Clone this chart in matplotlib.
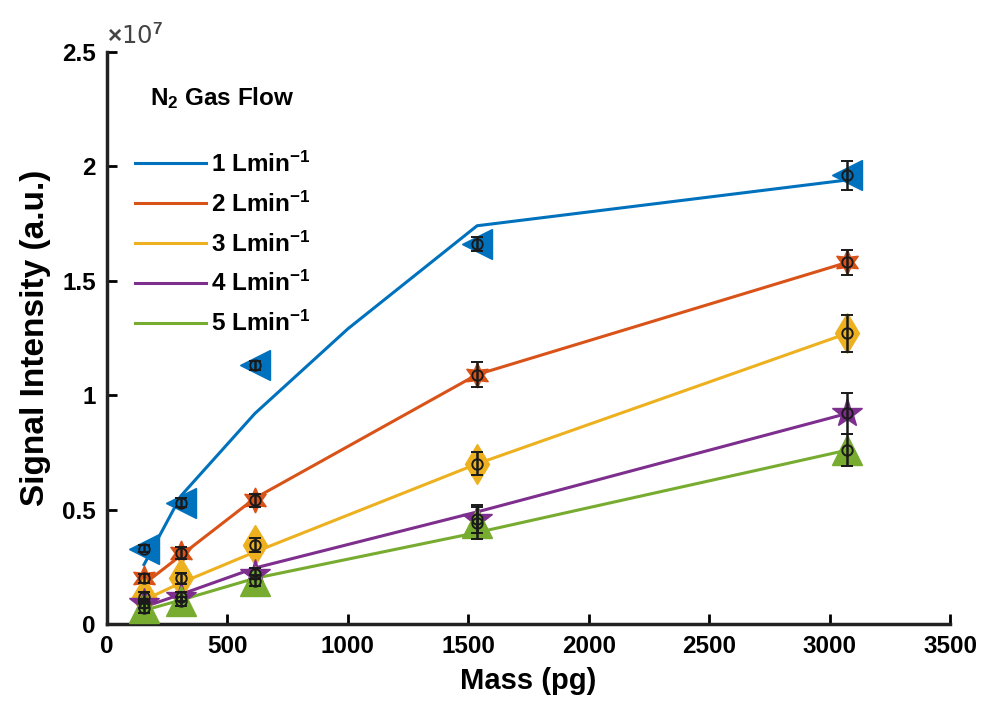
import matplotlib
matplotlib.use('Agg')
import matplotlib.pyplot as plt

plt.rcParams['font.family'] = ['Liberation Sans', 'DejaVu Sans']
plt.rcParams['font.weight'] = 'bold'
plt.rcParams['mathtext.fontset'] = 'custom'
plt.rcParams['mathtext.rm'] = 'Liberation Sans:bold'
plt.rcParams['mathtext.bf'] = 'Liberation Sans:bold'
plt.rcParams['mathtext.it'] = 'Liberation Sans:bold'

# ---- data ----
mass = [154, 307, 614, 1536, 3072]
fit_mass_blue = [154, 307, 614, 1000, 1536, 3072]

labels = ['1 Lmin$^{-1}$', '2 Lmin$^{-1}$', '3 Lmin$^{-1}$', '4 Lmin$^{-1}$', '5 Lmin$^{-1}$']

sig_1 = [3.3e6, 5.3e6, 1.13e7, 1.66e7, 1.96e7]
sig_2 = [2.0e6, 3.1e6, 5.4e6, 1.09e7, 1.58e7]
sig_3 = [1.2e6, 2.0e6, 3.45e6, 7.0e6, 1.27e7]
sig_4 = [0.9e6, 1.2e6, 2.2e6, 4.6e6, 9.2e6]
sig_5 = [0.7e6, 1.0e6, 1.9e6, 4.4e6, 7.6e6]

err_1 = [0.15e6, 0.2e6, 0.2e6, 0.3e6, 0.65e6]
err_2 = [0.2e6, 0.25e6, 0.3e6, 0.55e6, 0.55e6]
err_3 = [0.2e6, 0.25e6, 0.3e6, 0.5e6, 0.8e6]
err_4 = [0.2e6, 0.2e6, 0.25e6, 0.6e6, 0.9e6]
err_5 = [0.2e6, 0.2e6, 0.25e6, 0.7e6, 0.7e6]

fit_1 = [2.6e6, 5.6e6, 9.2e6, 1.29e7, 1.74e7, 1.94e7]
fit_2 = [1.75e6, 3.0e6, 5.5e6, 1.09e7, 1.58e7]
fit_3 = [1.05e6, 1.8e6, 3.15e6, 7.0e6, 1.27e7]
fit_4 = [0.75e6, 1.3e6, 2.45e6, 4.9e6, 9.2e6]
fit_5 = [0.6e6, 1.05e6, 2.0e6, 4.0e6, 7.6e6]

colors = ['#0072BD', '#D95319', '#EDB120', '#7E2F8E', '#77AC30']
markers = ['<', (6, 1, 0), 'd', '*', '^']
msizes = [22, 18, 20, 22, 21]

sigs = [sig_1, sig_2, sig_3, sig_4, sig_5]
errs = [err_1, err_2, err_3, err_4, err_5]
fits = [fit_1, fit_2, fit_3, fit_4, fit_5]
fit_x = [fit_mass_blue, mass, mass, mass, mass]

fig = plt.figure(figsize=(9.9, 7.19), dpi=100)
ax = fig.add_axes([0.108, 0.132, 0.852, 0.796])

handles = []
for i in range(5):
    ln, = ax.plot(fit_x[i], fits[i], '-', color=colors[i], lw=2.2, zorder=2)
    handles.append(ln)
for i in range(5):
    ax.plot(mass, sigs[i], linestyle='none', marker=markers[i], ms=msizes[i],
            color=colors[i], mec=colors[i], zorder=3)
for i in range(5):
    ax.errorbar(mass, sigs[i], yerr=errs[i], fmt='o', ms=7.5, mfc='none', mec='#1a1a1a',
                mew=1.4, ecolor='#1a1a1a', elinewidth=1.8, capsize=4.5, capthick=1.8, zorder=4)

ax.set_xlim(0, 3500)
ax.set_ylim(0, 2.5e7)
ax.set_xticks([0, 500, 1000, 1500, 2000, 2500, 3000, 3500])
ax.set_yticks([0, 0.5e7, 1e7, 1.5e7, 2e7, 2.5e7])
ax.set_yticklabels(['0', '0.5', '1', '1.5', '2', '2.5'])
ax.tick_params(direction='in', length=7, width=2, labelsize=17.5, pad=8)
for lab in ax.get_xticklabels() + ax.get_yticklabels():
    lab.set_fontweight('bold')
for s in ['top', 'right']:
    ax.spines[s].set_visible(False)
for s in ['left', 'bottom']:
    ax.spines[s].set_linewidth(2.5)
    ax.spines[s].set_color('#222222')

ax.set_xlabel('Mass (pg)', fontsize=21, fontweight='bold', labelpad=6)
ax.set_ylabel('Signal Intensity (a.u.)', fontsize=24, fontweight='bold', labelpad=8)
ax.text(0.0, 1.005, r'$\times$10$^{7}$', transform=ax.transAxes, fontsize=17.5,
        fontweight='normal', color='#444444', ha='left', va='bottom',
        family=['DejaVu Sans'])

leg = ax.legend(handles, labels, loc='upper left', bbox_to_anchor=(0.022, 0.958),
                frameon=False, handlelength=2.9, handletextpad=0.2, labelspacing=0.6,
                fontsize=17.5, title='N$_{2}$ Gas Flow',
                title_fontproperties={'weight': 'bold', 'size': 17.5},
                borderaxespad=0)
leg._legend_box.sep = 29

fig.savefig('out.png', dpi=100)
